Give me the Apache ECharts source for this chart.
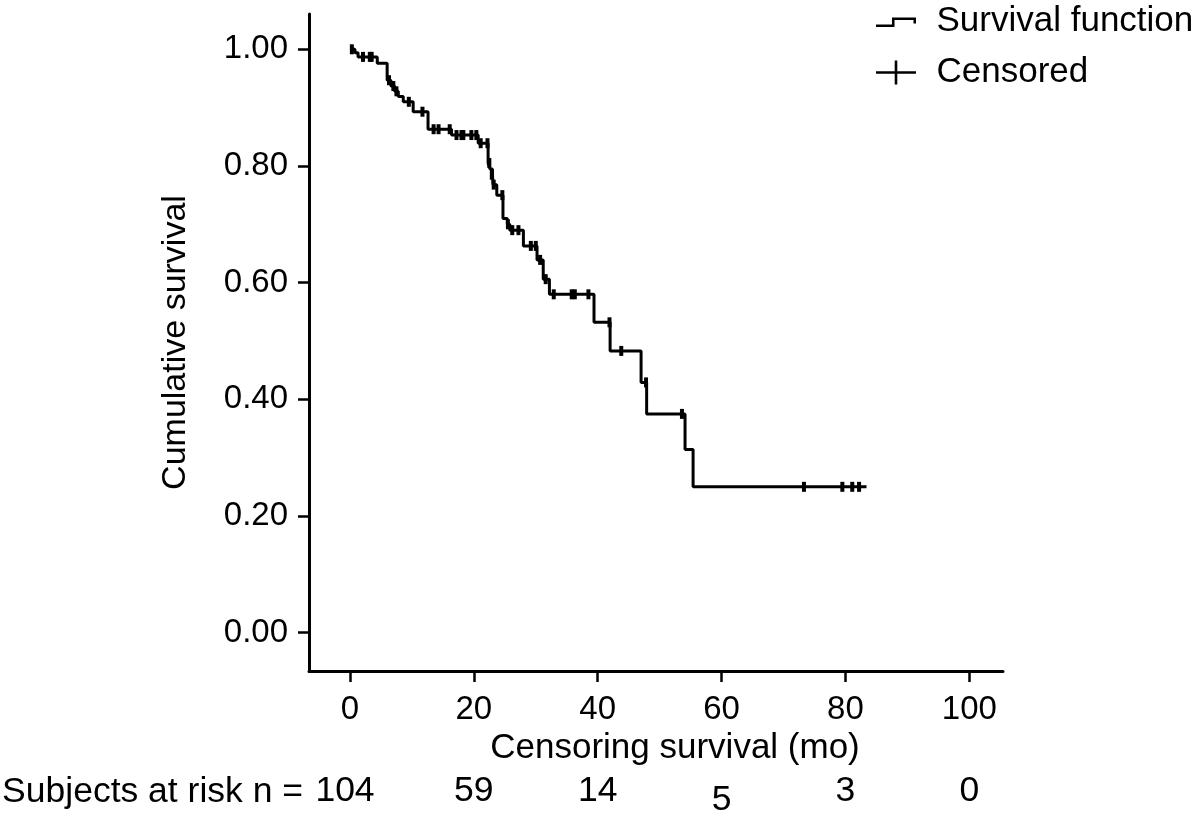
<!DOCTYPE html>
<html>
<head>
<meta charset="utf-8">
<script src="https://cdn.jsdelivr.net/npm/echarts@6/dist/echarts.min.js"></script>
<style>
html,body{margin:0;padding:0;background:#fff;}
#chart{width:1200px;height:819px;}
</style>
</head>
<body>
<div id="chart"></div>
<script>
// ---- data ----
const eventTimes = [0, 0.8, 1.3, 4.4, 6.0, 6.6, 7.2, 7.8, 8.6, 10.2, 12.6, 16.4, 20.7, 22.3, 22.6, 23.0, 23.1, 23.7, 24.7, 25.4, 25.8, 28.0, 30.2, 31.2, 32.2, 39.4, 42.0, 47.0, 47.9, 54.1, 55.4, 83.4];
const survival   = [1.0, 0.994, 0.987, 0.976, 0.947, 0.937, 0.928, 0.919, 0.910, 0.893, 0.863, 0.853, 0.839, 0.805, 0.795, 0.785, 0.768, 0.750, 0.710, 0.700, 0.690, 0.663, 0.639, 0.606, 0.580, 0.532, 0.483, 0.429, 0.375, 0.314, 0.250, 0.250];

const censorTimes = [0.3, 2.1, 3.2, 3.5, 6.3, 7.0, 7.5, 9.5, 11.7, 13.5, 14.3, 16.1, 17.2, 18.0, 18.3, 19.6, 20.4, 21.1, 22.2, 22.5, 22.9, 23.2, 24.6, 25.5, 26.2, 27.2, 29.2, 30.0, 30.7, 31.6, 32.9, 35.8, 36.3, 38.5, 41.9, 43.8, 47.8, 53.6, 73.3, 79.5, 81.1, 82.2];
const censorSurv  = [1.0, 0.987, 0.987, 0.987, 0.947, 0.937, 0.928, 0.910, 0.893, 0.863, 0.863, 0.863, 0.853, 0.853, 0.853, 0.853, 0.853, 0.839, 0.839, 0.805, 0.785, 0.768, 0.750, 0.700, 0.690, 0.690, 0.663, 0.663, 0.639, 0.606, 0.580, 0.580, 0.580, 0.580, 0.532, 0.483, 0.429, 0.375, 0.250, 0.250, 0.250, 0.250];

const xTicks = [0, 20, 40, 60, 80, 100];
const yTicks = [0, 0.2, 0.4, 0.6, 0.8, 1.0];
const riskTimes = [0, 20, 40, 60, 80, 100];
const riskCounts = [104, 59, 14, 5, 3, 0];

const seriesNames = ['Survival function', 'Censored'];
const xTitle = 'Censoring survival (mo)';
const yTitle = 'Cumulative survival';
const riskPrefix = 'Subjects at risk n =';

// ---- chart ----
const FONT = '"Liberation Sans", Arial, Helvetica, sans-serif';
const FS = 33;      // tick labels
const FS_T = 35;    // titles / legend
const FS_R = 35.5;  // risk row
const stepIcon = 'path://M0,0L0.01,0Z M40,24L39.99,24Z M0,15L16,15L16,8L40,8L40,14L37.5,14L37.5,10.5L18.5,10.5L18.5,17.5L0,17.5Z';
const crossIcon = 'path://M0,10.7L40,10.7L40,13.3L0,13.3Z M18.7,0L21.3,0L21.3,24L18.7,24Z';

const kmData = eventTimes.map((t, i) => [t, survival[i]]);
const censorData = censorTimes.map((t, i) => [t, censorSurv[i]]);

const chart = echarts.init(document.getElementById('chart'), null, {renderer: 'canvas'});
chart.setOption({
  animation: false,
  backgroundColor: '#fff',
  textStyle: {fontFamily: FONT, color: '#000'},
  grid: {left: 309, right: 197, top: 14, bottom: 148, outerBoundsMode: 'none', containLabel: false},
  legend: {
    orient: 'vertical', left: 876, top: 4, padding: 0,
    itemWidth: 41, itemHeight: 24, itemGap: 16,
    itemStyle: {color: '#000', borderWidth: 0, opacity: 1},
    textStyle: {fontSize: FS_T, color: '#000', fontFamily: FONT, padding: [0, 0, 0, 15]},
    data: [{name: seriesNames[0], icon: stepIcon}, {name: seriesNames[1], icon: crossIcon}]
  },
  xAxis: [{
    type: 'value', min: -6.62, max: 105.44,
    name: xTitle, nameLocation: 'middle', nameGap: 55,
    nameTextStyle: {fontSize: FS_T, color: '#000', fontFamily: FONT, padding: [0, 0, 0, 38]},
    axisLine: {show: true, onZero: false, lineStyle: {color: '#000', width: 3}},
    axisTick: {show: true, inside: false, length: 11, lineStyle: {color: '#000', width: 2.5}, customValues: xTicks},
    axisLabel: {show: true, margin: 22, fontSize: FS, color: '#000', fontFamily: FONT, customValues: xTicks, formatter: v => String(v)},
    splitLine: {show: false}
  }, {
    type: 'value', min: -6.62, max: 105.44, position: 'bottom', gridIndex: 0,
    axisLine: {show: false}, axisTick: {show: false}, splitLine: {show: false},
    axisLabel: {
      show: true, margin: 102, fontSize: FS_R, color: '#000', fontFamily: FONT,
      customValues: riskTimes,
      formatter: v => {
        const i = riskTimes.indexOf(v);
        const s = String(riskCounts[i]);
        if (v === 60) return '{low|' + s + '}';
        if (v === 0) return '{first|' + s + '}';
        return s;
      },
      rich: {
        low: {fontSize: FS_R, color: '#000', fontFamily: FONT, padding: [9, 0, 0, 0]},
        first: {fontSize: FS_R, color: '#000', fontFamily: FONT, padding: [0, 10, 0, 0]}
      }
    }
  }],
  yAxis: {
    type: 'value', min: -0.0657, max: 1.0605,
    name: yTitle, nameLocation: 'middle', nameGap: 116,
    nameTextStyle: {fontSize: 34, color: '#000', fontFamily: FONT},
    axisLine: {show: true, onZero: false, lineStyle: {color: '#000', width: 3}},
    axisTick: {show: true, inside: false, length: 11, lineStyle: {color: '#000', width: 2.5}, customValues: yTicks},
    axisLabel: {show: true, margin: 21, fontSize: FS, color: '#000', fontFamily: FONT, customValues: yTicks, formatter: v => v.toFixed(2)},
    splitLine: {show: false}
  },
  graphic: [{
    type: 'text', x: 303, y: 792,
    style: {text: riskPrefix, fontSize: FS_R, fontFamily: FONT, fill: '#000', align: 'right', verticalAlign: 'middle'}
  }],
  series: [{
    name: seriesNames[0], type: 'line', step: 'end', data: kmData,
    showSymbol: false, symbol: 'none',
    lineStyle: {color: '#000', width: 3},
    itemStyle: {color: '#000'}, z: 2
  }, {
    name: seriesNames[1], type: 'scatter', data: censorData,
    symbol: 'path://M0,0L2,0L2,10L0,10Z', symbolSize: [4, 10],
    itemStyle: {color: '#000', opacity: 1}, z: 3
  }]
});
</script>
</body>
</html>
